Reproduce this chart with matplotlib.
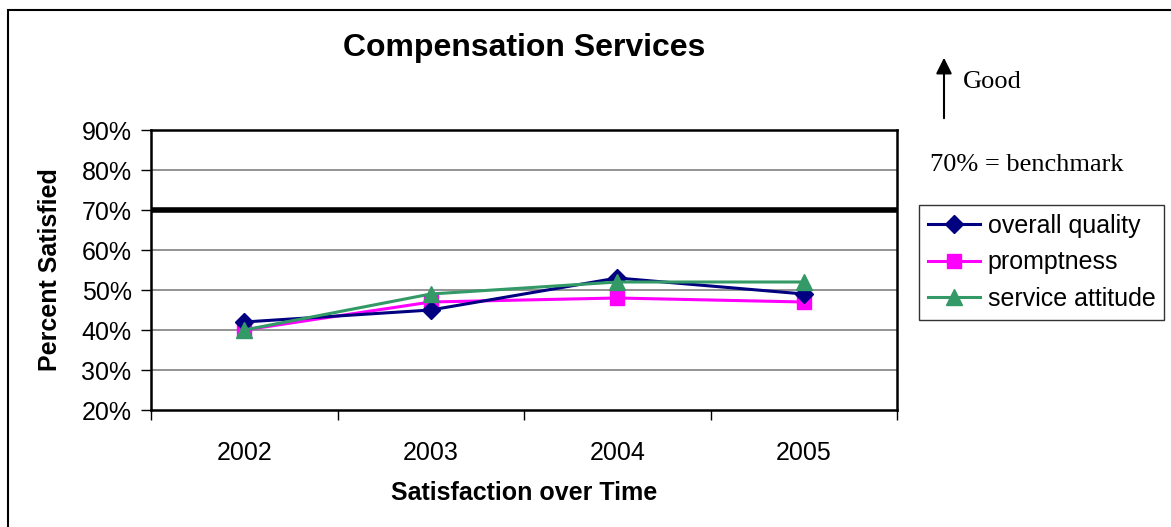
import numpy as np
import matplotlib.pyplot as plt
from matplotlib.patches import Rectangle, FancyArrowPatch

years = ["2002", "2003", "2004", "2005"]
overall_quality = [42, 45, 53, 49]
promptness = [40, 47, 48, 47]
service_attitude = [40, 49, 52, 52]
benchmark = 70
y_ticks = [20, 30, 40, 50, 60, 70, 80, 90]

plt.rcParams["font.family"] = "Liberation Sans"

W, H = 1171, 527
fig = plt.figure(figsize=(W / 100, H / 100), dpi=100)
fig.patch.set_facecolor("white")

# outer frame around the chart
fig.add_artist(Rectangle((8 / W, -0.1), 1.2, (H - 10) / H + 0.1,
                         transform=fig.transFigure, fill=False,
                         edgecolor="black", linewidth=1.5))

ax = fig.add_axes([151 / W, (H - 410) / H, (897 - 151) / W, (410 - 130) / H])
x = np.arange(len(years))

ax.set_ylim(20, 90)
ax.set_xlim(-0.5, len(years) - 0.5)
ax.set_yticks(y_ticks)
ax.set_yticklabels(["%d%%" % v for v in y_ticks], fontsize=18)
for v in y_ticks[1:-1]:
    ax.axhline(v, color="#808080", linewidth=1.2, zorder=1)
ax.axhline(benchmark, color="black", linewidth=4, zorder=2)

# category ticks sit between the years
ax.set_xticks(np.arange(-0.5, len(years)), minor=False)
ax.set_xticklabels([])
ax.set_xticks(x, minor=True)
ax.set_xticklabels(years, minor=True, fontsize=18)
ax.tick_params(axis="x", which="major", direction="out", length=7, width=1)
ax.tick_params(axis="x", which="minor", length=0, pad=22)
ax.tick_params(axis="y", direction="out", length=7, width=1, pad=7)

for s in ax.spines.values():
    s.set_linewidth(1.8)

ax.plot(x, overall_quality, color="#000080", marker="D", markersize=9,
        linewidth=2.2, label="overall quality", zorder=4, clip_on=False)
ax.plot(x, promptness, color="#FF00FF", marker="s", markersize=10,
        linewidth=2.2, label="promptness", zorder=3, clip_on=False)
ax.plot(x, service_attitude, color="#339966", marker="^", markersize=11,
        linewidth=2.2, label="service attitude", zorder=5, clip_on=False)

ax.set_xlabel("Satisfaction over Time", fontsize=18, fontweight="bold", labelpad=12)
ax.set_ylabel("Percent Satisfied", fontsize=18, fontweight="bold")
ax.yaxis.set_label_coords((62 - 151) / (897 - 151), 0.5)
fig.text((151 + 897) / 2 / W, (H - 48) / H, "Compensation Services",
         fontsize=23, fontweight="bold", ha="center", va="center")

leg = fig.legend(loc="upper left", bbox_to_anchor=(919 / W, (H - 205) / H),
                 fontsize=18, frameon=True, fancybox=False, handlelength=2.1,
                 handletextpad=0.3, borderpad=0.35, labelspacing=0.5,
                 borderaxespad=0)
leg.get_frame().set_edgecolor("black")
leg.get_frame().set_linewidth(1)

# "higher is better" note
fig.add_artist(FancyArrowPatch((944 / W, (H - 121) / H), (944 / W, (H - 55) / H),
                               transform=fig.transFigure, arrowstyle="-|>",
                               mutation_scale=24, color="black", linewidth=1.5))
fig.text(963 / W, (H - 82) / H, "Good", family="Liberation Serif",
         fontsize=19, va="center", ha="left")
fig.text(930 / W, (H - 165) / H, "70% = benchmark", family="Liberation Serif",
         fontsize=19, va="center", ha="left")

fig.savefig("out.png", dpi=100)
